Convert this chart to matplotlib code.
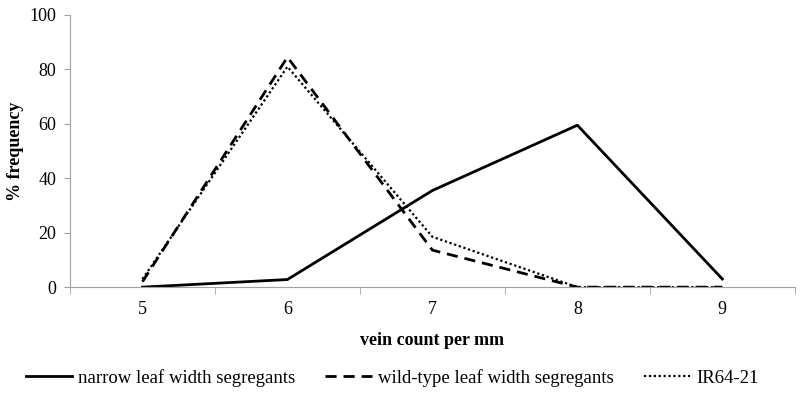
import numpy as np
import matplotlib.pyplot as plt

# vein count categories and % frequency per group
vein_counts = ['5', '6', '7', '8', '9']
narrow = [0, 2.8, 35.5, 59.5, 3]
wild_type = [2, 84.5, 13.6, 0, 0]
ir64 = [3, 81, 18.5, 0, 0]

plt.rcParams['font.family'] = ['Liberation Serif', 'DejaVu Serif']

fig = plt.figure(figsize=(8, 4.05), dpi=100)
ax = fig.add_axes([0.0875, 0.291, 0.906, 0.672])

x = np.arange(len(vein_counts))
ax.plot(x, narrow, color='black', lw=2, ls='-',
        label='narrow leaf width segregants')
ax.plot(x, wild_type, color='black', lw=2, ls=(0, (4, 2.5)),
        label='wild-type leaf width segregants')
ax.plot(x, ir64, color='black', lw=1.6, ls=(0, (1, 1.2)),
        label='IR64-21')

ax.set_xlim(-0.5, len(vein_counts) - 0.5)
ax.set_ylim(0, 100)
ax.set_yticks([0, 20, 40, 60, 80, 100])
ax.set_xticks(x)
ax.set_xticklabels(vein_counts)
# category boundary ticks like a spreadsheet chart
ax.set_xticks(np.arange(-0.5, len(vein_counts)), minor=True)
ax.tick_params(axis='x', which='major', length=0, labelsize=13, pad=10)
ax.tick_params(axis='x', which='minor', length=5, color='#a0a0a0')
ax.tick_params(axis='y', labelsize=13, length=4, color='#a0a0a0', pad=6)

ax.spines['top'].set_visible(False)
ax.spines['right'].set_visible(False)
ax.spines['left'].set_color('#a0a0a0')
ax.spines['bottom'].set_color('#a0a0a0')

ax.set_xlabel('vein count per mm', fontsize=13, fontweight='bold', labelpad=10)
ax.set_ylabel('% frequency', fontsize=13, fontweight='bold', labelpad=4)

fig.legend(loc='center', bbox_to_anchor=(0.49, 0.067), ncol=3, frameon=False,
           fontsize=13.5, handlelength=2.5, handletextpad=0.3,
           columnspacing=1.6)

fig.savefig('out.png', dpi=100)
